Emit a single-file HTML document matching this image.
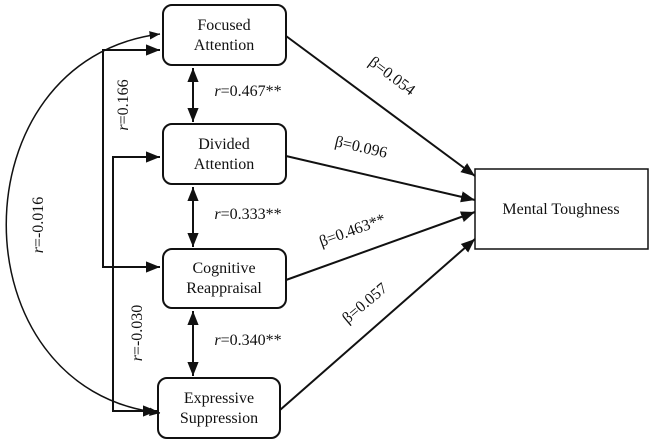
<!DOCTYPE html>
<html><head><style>body{margin:0;background:#fff}svg{display:block}svg text{font-family:"Liberation Serif",serif}</style></head><body>
<svg width="654" height="444" viewBox="0 0 654 444" xmlns="http://www.w3.org/2000/svg" font-family="'Liberation Serif', serif" font-size="16" fill="#111">
<defs><marker id="a" viewBox="0 0 10 10" refX="10" refY="5" markerWidth="7" markerHeight="7" orient="auto-start-reverse"><path d="M0,1 L10,5 L0,9 z" fill="#111"/></marker></defs>
<g fill="none" stroke="#111" stroke-width="2">
<rect x="163" y="5" width="123" height="60" rx="9"/>
<rect x="163" y="124" width="123" height="60" rx="9"/>
<rect x="163" y="249" width="123" height="59" rx="9"/>
<rect x="158" y="378" width="122" height="60" rx="9"/>
<rect x="475" y="169" width="173" height="80" stroke-width="1.5"/>
<path d="M160,34 C-45,60 -45,390 160,413" stroke-width="1.5" marker-start="url(#a)" marker-end="url(#a)"/>
<path d="M160,50 H103 V267 H160" marker-start="url(#a)" marker-end="url(#a)"/>
<path d="M160,157 H113 V411 H157" marker-start="url(#a)" marker-end="url(#a)"/>
<line x1="193" y1="68" x2="193" y2="122" marker-start="url(#a)" marker-end="url(#a)"/>
<line x1="193" y1="187" x2="193" y2="247" marker-start="url(#a)" marker-end="url(#a)"/>
<line x1="193" y1="311" x2="193" y2="376" marker-start="url(#a)" marker-end="url(#a)"/>
<line x1="286" y1="36" x2="475" y2="176" marker-end="url(#a)"/>
<line x1="286" y1="156" x2="475" y2="200" marker-end="url(#a)"/>
<line x1="286" y1="280" x2="475" y2="212" marker-end="url(#a)"/>
<line x1="280" y1="410" x2="475" y2="239" marker-end="url(#a)"/>
</g>
<g text-anchor="middle">
<text x="224" y="30">Focused</text><text x="224" y="50">Attention</text>
<text x="224" y="149">Divided</text><text x="224" y="169">Attention</text>
<text x="224" y="273">Cognitive</text><text x="224" y="293">Reappraisal</text>
<text x="219" y="403">Expressive</text><text x="219" y="423">Suppression</text>
<text x="561" y="214">Mental Toughness</text>
<text x="248" y="96"><tspan font-style="italic">r</tspan>=0.467**</text>
<text x="248" y="219"><tspan font-style="italic">r</tspan>=0.333**</text>
<text x="248" y="345"><tspan font-style="italic">r</tspan>=0.340**</text>
<text transform="translate(128,105) rotate(-90)"><tspan font-style="italic">r</tspan>=0.166</text>
<text transform="translate(43,225) rotate(-90)"><tspan font-style="italic">r</tspan>=-0.016</text>
<text transform="translate(142,333) rotate(-90)"><tspan font-style="italic">r</tspan>=-0.030</text>
<text transform="translate(389,80) rotate(37)">β=0.054</text>
<text transform="translate(360,152) rotate(13)">β=0.096</text>
<text transform="translate(354,235) rotate(-20)">β=0.463**</text>
<text transform="translate(368,307) rotate(-40)">β=0.057</text>
</g>
</svg>
</body></html>
